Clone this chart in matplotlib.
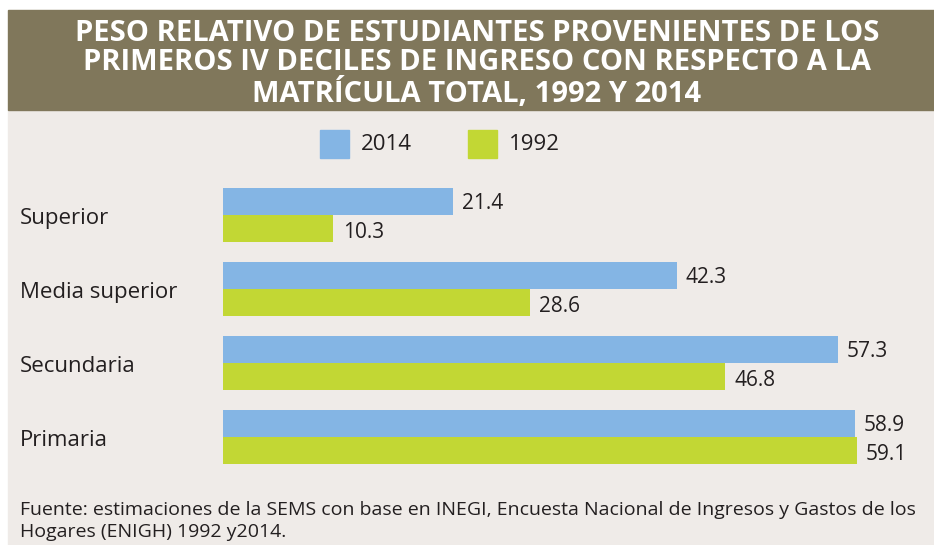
import numpy as np
from matplotlib import pyplot as plt
from matplotlib.patches import Rectangle

categorias = ['Superior', 'Media superior', 'Secundaria', 'Primaria']
valores_2014 = [21.4, 42.3, 57.3, 58.9]
valores_1992 = [10.3, 28.6, 46.8, 59.1]
anios = ['2014', '1992']

titulo = ('PESO RELATIVO DE ESTUDIANTES PROVENIENTES DE LOS\n'
          'PRIMEROS IV DECILES DE INGRESO CON RESPECTO A LA\n'
          'MATRÍCULA TOTAL, 1992 Y 2014')
fuente = ('Fuente: estimaciones de la SEMS con base en INEGI, Encuesta Nacional de Ingresos y Gastos de los\n'
          'Hogares (ENIGH) 1992 y2014.')

AZUL = '#84b5e4'
VERDE = '#c2d734'
CAFE = '#80775b'
FONDO = '#efebe8'
TEXTO = '#231f20'

plt.rcParams['font.family'] = ['Open Sans', 'DejaVu Sans']

W, H = 934, 545
fig = plt.figure(figsize=(W / 100, H / 100), dpi=100)
fig.patch.set_facecolor('white')

# fondo y banda del titulo (en pixeles de la figura)
def px(x, y):
    return x / W, 1 - y / H

fig.patches.append(Rectangle(px(8, 545), (W - 8) / W, (545 - 110) / H,
                             transform=fig.transFigure, color=FONDO, zorder=-5))
fig.patches.append(Rectangle(px(8, 110), (W - 8) / W, 100 / H,
                             transform=fig.transFigure, color=CAFE, zorder=-5))
fig.text(*px(477, 64), titulo, ha='center', va='center', color='white',
         fontsize=21, fontweight='bold', linespacing=1.02)

# leyenda
for i, (anio, col) in enumerate(zip(anios, [AZUL, VERDE])):
    x0 = 320 + i * 148
    fig.patches.append(Rectangle(px(x0, 158), 29 / W, 28 / H,
                                 transform=fig.transFigure, color=col))
    fig.text(*px(x0 + 41, 144), anio, ha='left', va='center',
             color=TEXTO, fontsize=16)

# barras
XMAX = 66
ax = fig.add_axes([223 / W, (545 - 474) / H, 708 / W, 296 / H])
ax.set_facecolor('none')
y = np.arange(len(categorias))
h = 0.36
ax.barh(y - h / 2, valores_2014, height=h, color=AZUL)
ax.barh(y + h / 2, valores_1992, height=h, color=VERDE)
ax.set_xlim(0, XMAX)
ax.set_ylim(3.5, -0.5)
for yy, v in zip(y, valores_2014):
    ax.text(v + 0.85, yy - h / 2 + 0.03, f'{v:.1f}', va='center', ha='left',
            color=TEXTO, fontsize=15)
for yy, v in zip(y, valores_1992):
    ax.text(v + 0.85, yy + h / 2 + 0.05, f'{v:.1f}', va='center', ha='left',
            color=TEXTO, fontsize=15)
ax.axis('off')

for yy, c in zip(y, categorias):
    ax.text(-203 * XMAX / 708, yy + 0.05, c, ha='left', va='center',
            color=TEXTO, fontsize=16)

fig.text(*px(20, 521), fuente, ha='left', va='center', color=TEXTO,
         fontsize=14, linespacing=1.25)

fig.savefig('out.png', dpi=100, facecolor=fig.get_facecolor())
